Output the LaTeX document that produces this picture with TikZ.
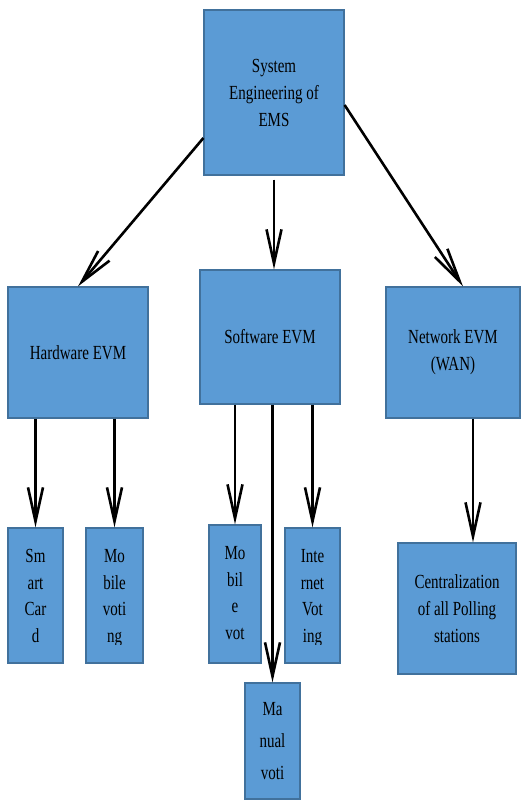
\documentclass[tikz,border=0pt]{standalone}
\usepackage{fontspec}
\newfontfamily\boxfont[FakeStretch=0.75]{Liberation Serif}
\usetikzlibrary{arrows.meta,positioning}
\definecolor{boxblue}{HTML}{5B9BD5}
\definecolor{boxedge}{HTML}{41719C}
\tikzset{
  box/.style={draw=boxedge, fill=boxblue, line width=1.2pt, inner sep=2pt, align=center,
    font=\boxfont\fontsize{20}{27}\selectfont},
  leaf/.style={draw=boxedge, fill=boxblue, line width=1.2pt, inner sep=0pt},
  leaftext/.style={inner sep=0pt, align=center, font=\boxfont\fontsize{20}{26.5}\selectfont},
  arr/.style={line width=2.6pt, -{Straight Barb[length=34pt,width=15pt]}}
}
\begin{document}
\begin{tikzpicture}[x=1pt,y=-1pt]
  \useasboundingbox (0,0) rectangle (521,801);
  % top level
  \node[box, minimum width=140pt, minimum height=165pt] (ems) at (274,92.5) {System\\Engineering of\\EMS};
  % second level
  \node[box, minimum width=140pt, minimum height=131pt] (hw) at (78,352.5) {Hardware EVM};
  \node[box, minimum width=140pt, minimum height=134pt] (sw) at (270,337) {Software EVM};
  \node[box, minimum width=134pt, minimum height=131pt] (nw) at (453,352.5) {Network EVM\\(WAN)};
  % leaves
  \node[leaf, minimum width=55pt, minimum height=135pt] (sc) at (35.5,595.5) {};
  \node[leaf, minimum width=57pt, minimum height=135pt] (mv) at (114.5,595.5) {};
  \node[leaf, minimum width=52pt, minimum height=138pt] (mvt) at (235,594) {};
  \node[leaf, minimum width=55pt, minimum height=135pt] (iv) at (312.5,595.5) {};
  \node[leaf, minimum width=55pt, minimum height=116pt] (mn) at (272.5,741) {};
  \node[box, minimum width=118pt, minimum height=131pt] (cp) at (457,608.5) {Centralization\\of all Polling\\stations};
  % leaf texts, cut off at the bottom
  \foreach \n/\txt in {sc/{Sm\\art\\Car\\d}, mv/{Mo\\bile\\voti\\ng}, mvt/{Mo\\bil\\e\\vot}, iv/{Inte\\rnet\\Vot\\ing}}{
    \begin{scope}
      \clip (\n.north west) rectangle ([yshift=19pt]\n.south east);
      \node[leaftext, below=22pt of \n.north] (\n-t) {\txt};
    \end{scope}
  }
  \node[leaftext, font=\boxfont\fontsize{20}{32}\selectfont, below=20pt of mn.north] (mn-t) {Ma\\nual\\voti};
  % connectors
  \draw[arr] ([yshift=-45.5pt]ems.west) -- (hw.north);
  \draw[arr] ([yshift=-4pt]ems.south) -- (ems.south |- sw.north);
  \draw[arr] ([yshift=-12.5pt]ems.east) -- ([xshift=10pt]nw.north);
  \foreach \c in {sc,mv}
    \draw[arr] (hw.south -| \c.north) -- (\c.north);
  \foreach \c in {mvt,iv,mn}
    \draw[arr] (sw.south -| \c.north) -- (\c.north);
  \draw[arr] ([xshift=20pt]nw.south) -- ([xshift=16pt]cp.north);
\end{tikzpicture}
\end{document}
